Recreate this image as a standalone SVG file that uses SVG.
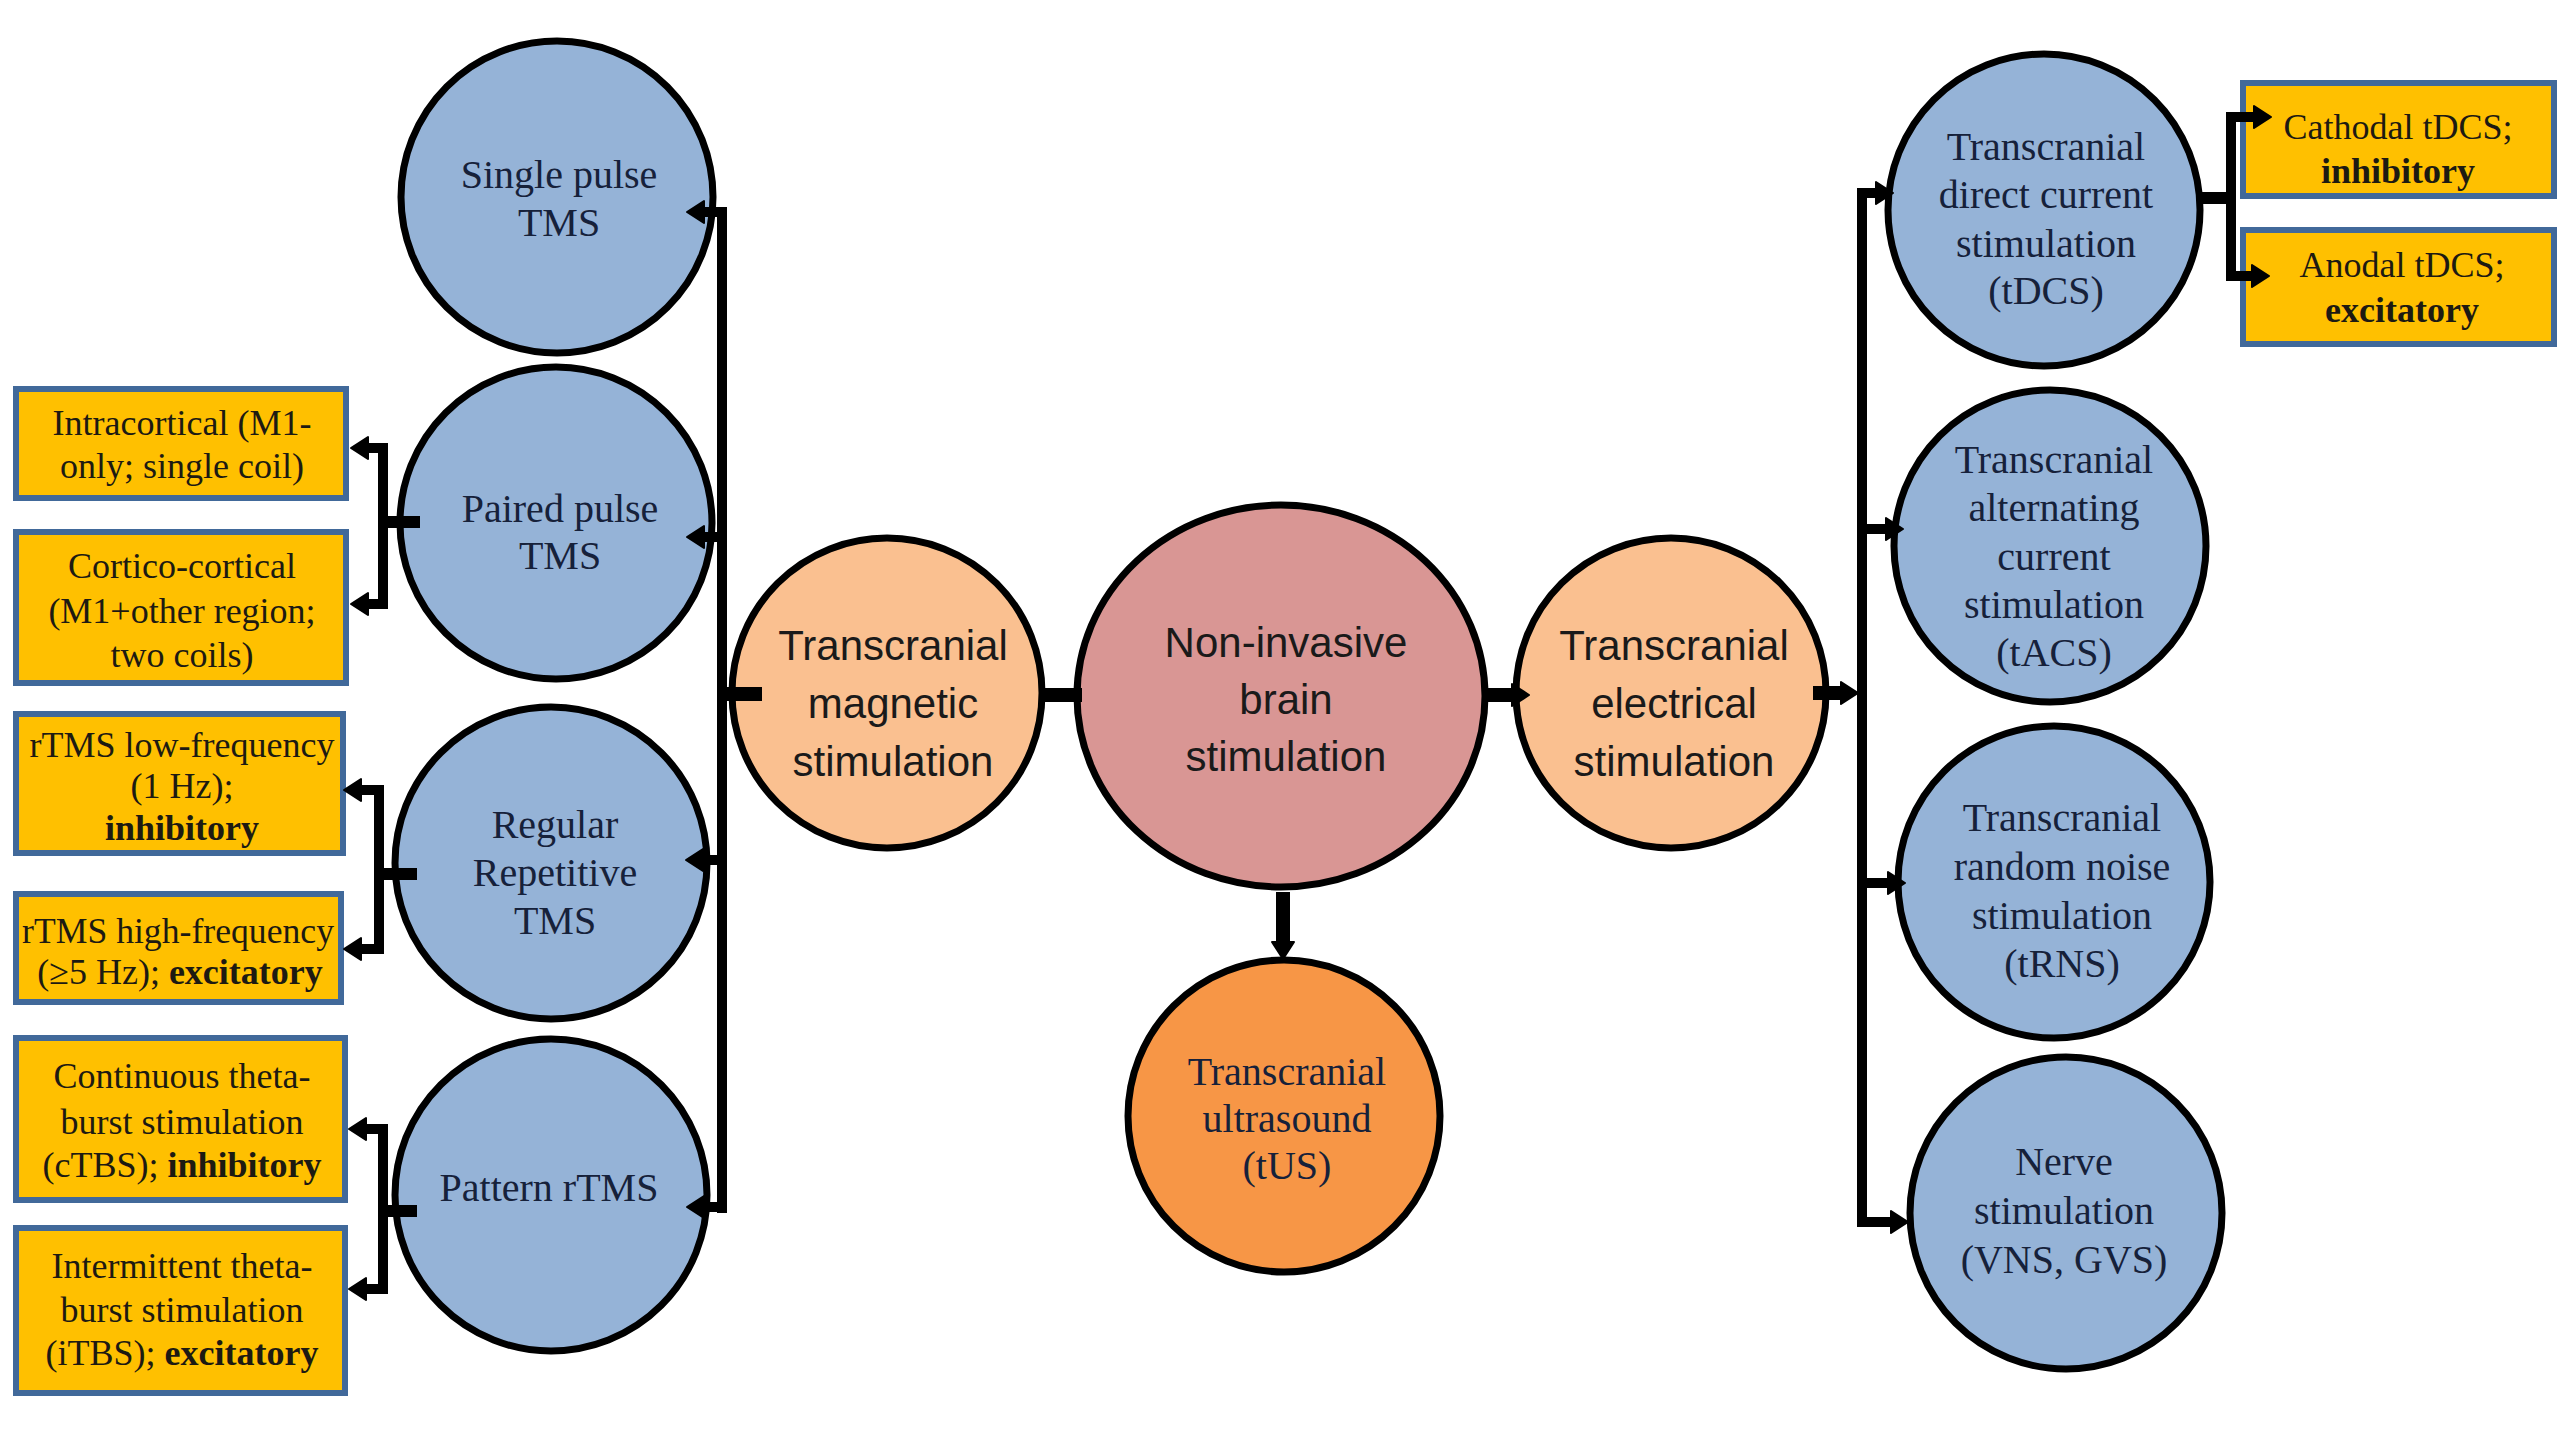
<svg xmlns="http://www.w3.org/2000/svg" width="2560" height="1440" viewBox="0 0 2560 1440">
<defs>
<style>
.bg{fill:#ffffff}
.blue{fill:#95B3D7;stroke:#000;stroke-width:7}
.peach{fill:#FAC090;stroke:#000;stroke-width:7}
.core{fill:#D99694;stroke:#000;stroke-width:7}
.us{fill:#F79646;stroke:#000;stroke-width:7}
.box{fill:#FFC000;stroke:#41699A;stroke-width:6}
.st{font-family:"Liberation Serif","Times New Roman",serif;font-size:40px;fill:#16213a;text-anchor:middle}
.bt{font-family:"Liberation Serif","Times New Roman",serif;font-size:36px;fill:#1d1a12;text-anchor:middle}
.ss{font-family:"Liberation Sans",Arial,sans-serif;font-size:42px;fill:#1a1a1a;text-anchor:middle}
.b{font-weight:bold}
.ln{fill:none;stroke:#000;stroke-width:10;stroke-linecap:butt}
.tr{fill:none;stroke:#000;stroke-width:10;stroke-linecap:square}
.th{fill:none;stroke:#000;stroke-width:14;stroke-linecap:butt}
.ar{marker-end:url(#ah)}
</style>
<marker id="ah" viewBox="0 0 20 26" refX="7" refY="13" markerWidth="20" markerHeight="26" markerUnits="userSpaceOnUse" orient="auto">
<path d="M1,2 L18,13 L1,24 Z" fill="#000" stroke="#000" stroke-width="2" stroke-linejoin="round"/>
</marker>
</defs>
<rect class="bg" x="0" y="0" width="2560" height="1440"/>

<g id="n-single">
<circle class="blue" cx="557" cy="197" r="156"/>
<text class="st" x="559" y="188">Single pulse</text>
<text class="st" x="559" y="236">TMS</text>
</g>
<g id="n-paired">
<circle class="blue" cx="556" cy="523" r="156"/>
<text class="st" x="560" y="522">Paired pulse</text>
<text class="st" x="560" y="569">TMS</text>
</g>
<g id="n-regular">
<circle class="blue" cx="551" cy="863" r="156"/>
<text class="st" x="555" y="838">Regular</text>
<text class="st" x="555" y="886">Repetitive</text>
<text class="st" x="555" y="934">TMS</text>
</g>
<g id="n-pattern">
<circle class="blue" cx="551" cy="1195" r="156"/>
<text class="st" x="549" y="1201">Pattern rTMS</text>
</g>

<g id="b-intracortical">
<rect class="box" x="16" y="389" width="330" height="109"/>
<text class="bt" x="182" y="435">Intracortical (M1-</text>
<text class="bt" x="182" y="478">only; single coil)</text>
</g>
<g id="b-cortico">
<rect class="box" x="16" y="532" width="330" height="151"/>
<text class="bt" x="182" y="578">Cortico-cortical</text>
<text class="bt" x="182" y="623">(M1+other region;</text>
<text class="bt" x="182" y="667">two coils)</text>
</g>
<g id="b-low">
<rect class="box" x="16" y="714" width="327" height="139"/>
<text class="bt" x="182" y="757">rTMS low-frequency</text>
<text class="bt" x="182" y="798">(1 Hz);</text>
<text class="bt b" x="182" y="840">inhibitory</text>
</g>
<g id="b-high">
<rect class="box" x="16" y="894" width="325" height="108"/>
<text class="bt" x="178" y="943" textLength="312" lengthAdjust="spacingAndGlyphs">rTMS high-frequency</text>
<text class="bt" x="180" y="984">(≥5 Hz); <tspan class="b">excitatory</tspan></text>
</g>
<g id="b-ctbs">
<rect class="box" x="16" y="1038" width="329" height="162"/>
<text class="bt" x="182" y="1088">Continuous theta-</text>
<text class="bt" x="182" y="1134">burst stimulation</text>
<text class="bt" x="182" y="1177">(cTBS); <tspan class="b">inhibitory</tspan></text>
</g>
<g id="b-itbs">
<rect class="box" x="16" y="1228" width="329" height="165"/>
<text class="bt" x="182" y="1278">Intermittent theta-</text>
<text class="bt" x="182" y="1322">burst stimulation</text>
<text class="bt" x="182" y="1365">(iTBS); <tspan class="b">excitatory</tspan></text>
</g>

<g id="n-tms">
<circle class="peach" cx="887" cy="693" r="155"/>
<text class="ss" x="893" y="660">Transcranial</text>
<text class="ss" x="893" y="718">magnetic</text>
<text class="ss" x="893" y="776">stimulation</text>
</g>
<g id="n-nibs">
<ellipse class="core" cx="1281" cy="696" rx="204" ry="191"/>
<text class="ss" x="1286" y="657">Non-invasive</text>
<text class="ss" x="1286" y="714">brain</text>
<text class="ss" x="1286" y="771">stimulation</text>
</g>
<g id="n-tes">
<circle class="peach" cx="1671" cy="693" r="155"/>
<text class="ss" x="1674" y="660">Transcranial</text>
<text class="ss" x="1674" y="718">electrical</text>
<text class="ss" x="1674" y="776">stimulation</text>
</g>
<g id="n-tus">
<circle class="us" cx="1284" cy="1116" r="156"/>
<text class="st" x="1287" y="1085">Transcranial</text>
<text class="st" x="1287" y="1132">ultrasound</text>
<text class="st" x="1287" y="1179">(tUS)</text>
</g>

<g id="n-tdcs">
<circle class="blue" cx="2044" cy="210" r="156"/>
<text class="st" x="2046" y="160">Transcranial</text>
<text class="st" x="2046" y="208">direct current</text>
<text class="st" x="2046" y="257">stimulation</text>
<text class="st" x="2046" y="304">(tDCS)</text>
</g>
<g id="n-tacs">
<circle class="blue" cx="2050" cy="546" r="156"/>
<text class="st" x="2054" y="473">Transcranial</text>
<text class="st" x="2054" y="521">alternating</text>
<text class="st" x="2054" y="570">current</text>
<text class="st" x="2054" y="618">stimulation</text>
<text class="st" x="2054" y="666">(tACS)</text>
</g>
<g id="n-trns">
<circle class="blue" cx="2054" cy="882" r="156"/>
<text class="st" x="2062" y="831">Transcranial</text>
<text class="st" x="2062" y="880">random noise</text>
<text class="st" x="2062" y="929">stimulation</text>
<text class="st" x="2062" y="977">(tRNS)</text>
</g>
<g id="n-nerve">
<circle class="blue" cx="2066" cy="1213" r="156"/>
<text class="st" x="2064" y="1175">Nerve</text>
<text class="st" x="2064" y="1224">stimulation</text>
<text class="st" x="2064" y="1273">(VNS, GVS)</text>
</g>

<g id="b-cathodal">
<rect class="box" x="2243" y="83" width="311" height="113"/>
<text class="bt" x="2398" y="139">Cathodal tDCS;</text>
<text class="bt b" x="2398" y="183">inhibitory</text>
</g>
<g id="b-anodal">
<rect class="box" x="2243" y="230" width="311" height="114"/>
<text class="bt" x="2402" y="277">Anodal tDCS;</text>
<text class="bt b" x="2402" y="322">excitatory</text>
</g>

<g id="connectors">
<!-- left TMS trunk -->
<path class="tr" d="M722,212 V1208"/>
<path class="ln ar" d="M727,212 H698"/>
<path class="ln ar" d="M722,537 H698"/>
<path class="ln ar" d="M722,860 H697"/>
<path class="ln ar" d="M727,1207 H698"/>
<path class="th" d="M718,694 H762"/>
<!-- paired pulse bracket -->
<path class="th" d="M420,522 H380" style="stroke-width:12"/>
<path class="tr" d="M383,448 V604"/>
<path class="ln ar" d="M388,448 H362"/>
<path class="ln ar" d="M388,604 H362"/>
<!-- regular rTMS bracket -->
<path class="th" d="M417,874 H376" style="stroke-width:12"/>
<path class="tr" d="M379,790 V949"/>
<path class="ln ar" d="M384,790 H355"/>
<path class="ln ar" d="M384,949 H355"/>
<!-- pattern rTMS bracket -->
<path class="th" d="M417,1211 H380" style="stroke-width:12"/>
<path class="tr" d="M383,1129 V1289"/>
<path class="ln ar" d="M388,1129 H360"/>
<path class="ln ar" d="M388,1289 H360"/>
<!-- centre -->
<path class="th" d="M1040,695 H1082"/>
<path class="th ar" d="M1486,695 H1518"/>
<path class="th ar" d="M1813,693 H1847"/>
<path class="th ar" d="M1283,892 V948"/>
<!-- right TES trunk -->
<path class="tr" d="M1862,193 V1222"/>
<path class="ln ar" d="M1857,193 H1882"/>
<path class="ln ar" d="M1862,529 H1892"/>
<path class="ln ar" d="M1862,883 H1894"/>
<path class="ln ar" d="M1857,1222 H1897"/>
<!-- tDCS bracket -->
<path class="th" d="M2198,198 H2236" style="stroke-width:12"/>
<path class="tr" d="M2231,117 V276"/>
<path class="ln ar" d="M2226,117 H2260"/>
<path class="ln ar" d="M2226,276 H2258"/>
</g>
</svg>
